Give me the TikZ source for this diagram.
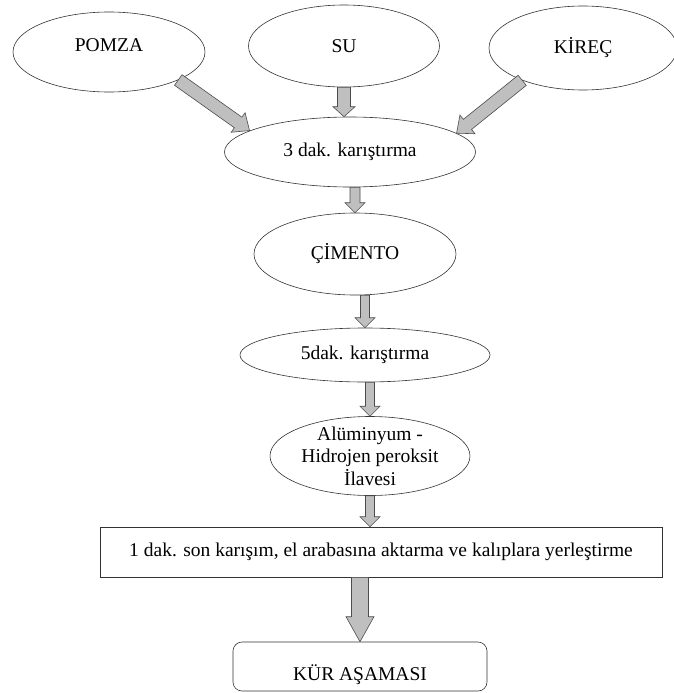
\documentclass[tikz,border=0pt]{standalone}
\usepackage{fontspec}
\setmainfont{Liberation Serif}
\usetikzlibrary{shapes.geometric,calc}
\begin{document}
\begin{tikzpicture}[x=1pt,y=-1pt,
	font=\fontsize{19.5}{25}\selectfont,
	oval/.style={draw=black!80,shape=ellipse,line width=0.6pt,inner sep=0pt},
	blockarrow/.style args={#1/#2/#3}{draw=black!70,fill=gray!50,line width=0.6pt,
		to path={let \p1=(\tikztostart),\p2=(\tikztotarget),
			\n1={atan2(\y2-\y1,\x2-\x1)},\n2={veclen(\x2-\x1,\y2-\y1)} in
			[shift={(\p1)},rotate=\n1]
			(0,-#1) -- ({\n2-#3},-#1) -- ({\n2-#3},-#2) -- (\n2,0)
			-- ({\n2-#3},#2) -- ({\n2-#3},#1) -- (0,#1) -- cycle}}]
		\useasboundingbox (0,0) rectangle (674,693);
		\node[oval,minimum width=192pt,minimum height=80pt,text height=13pt,text depth=13pt] (pomza) at (109,52) {POMZA};
		\node[oval,minimum width=191pt,minimum height=82pt] (su) at (344,46) {SU};
		\node[oval,minimum width=188pt,minimum height=84pt] (kirec) at (583,48) {KİREÇ};
		\node[oval,minimum width=251pt,minimum height=70pt] (mix1) at (350,152) {3 dak. karıştırma};
		\node[oval,minimum width=202pt,minimum height=82pt] (cimento) at (355,254) {ÇİMENTO};
		\node[oval,minimum width=250pt,minimum height=54pt] (mix2) at (365,355) {5dak. karıştırma};
		\node[oval,minimum width=200pt,minimum height=79pt,align=center,inner sep=-8pt,
			font=\fontsize{19.5}{22.5}\selectfont] (alu) at (370,456) {Alüminyum -\\Hidrojen peroksit\\İlavesi};
		\node[draw=black!80,line width=0.6pt,minimum width=562pt,minimum height=50pt] (son) at (381,552) {1 dak. son karışım, el arabasına aktarma ve kalıplara yerleştirme};
		\node[draw=black!80,line width=0.6pt,rounded corners=9pt,minimum width=254pt,minimum height=49pt,
			text height=33pt,text depth=6pt,inner ysep=5pt] (kur) at (360,666.5) {KÜR AŞAMASI};
		
		\draw[blockarrow=6.5/12/14] (pomza.-22) to (mix1.168);
		\draw[blockarrow=6.5/11/10] (su.south) to (su.south |- mix1.north);
		\draw[blockarrow=6.5/12/14] (kirec.208) to (mix1.10);
		\draw[blockarrow=5/10/10] (cimento.north |- mix1.south) to (cimento.north);
		\draw[blockarrow=4.5/10/10] (mix2.north |- cimento.south) to (mix2.north);
		\draw[blockarrow=4.5/10/10] (alu.north |- mix2.south) to (alu.north);
		\draw[blockarrow=4.5/10/10] (alu.south) to (alu.south |- son.north);
		\draw[blockarrow=8.5/14/25] (kur.north |- son.south) to (kur.north);
\end{tikzpicture}
\end{document}
